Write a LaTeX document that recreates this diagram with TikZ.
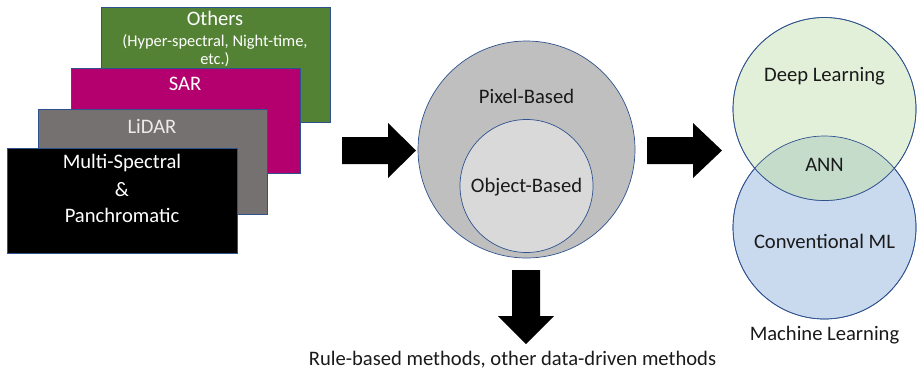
\documentclass[tikz,border=0pt]{standalone}
\usepackage{fontspec}
\setmainfont{Carlito}
\definecolor{bord}{HTML}{2F528F}
\definecolor{othg}{HTML}{548235}
\definecolor{sarm}{HTML}{B4006E}
\definecolor{lidg}{HTML}{767171}
\definecolor{pixg}{HTML}{BFBFBF}
\definecolor{objg}{HTML}{D9D9D9}
\definecolor{dlg}{HTML}{E2F0D9}
\definecolor{cmlb}{HTML}{C9D9EE}
\definecolor{anng}{HTML}{C5DCCB}
\definecolor{txt}{HTML}{1A1A1A}
\begin{document}
\begin{tikzpicture}[x=1pt,y=-1pt,
  layer/.style={draw=bord,line width=0.7pt,anchor=north west,inner sep=0pt},
  big/.style={font=\fontsize{20.6}{24}\selectfont,text=txt},
  wtxt/.style={font=\fontsize{20.6}{24}\selectfont,text=white},
  circ/.style={circle,draw=bord,line width=0.7pt,inner sep=0pt},
  blockarrow/.style={fill=black}]
\useasboundingbox (0,0) rectangle (917,373);
% stacked layers
\node[layer,fill=othg,minimum width=229pt,minimum height=115pt] (oth) at (101,7) {};
\node[layer,fill=sarm,minimum width=229pt,minimum height=105pt] (sar) at (71,68) {};
\node[layer,fill=lidg,minimum width=229pt,minimum height=105pt] (lid) at (38,109) {};
\node[layer,fill=black,minimum width=230pt,minimum height=105pt] (ms) at (7,148) {};
\node[wtxt] (othT) at (215,18) {Others};
\node[text=white,font=\fontsize{16.4}{19}\selectfont] (othS) at (215,42) {(Hyper-spectral, Night-time,};
\node[text=white,font=\fontsize{16.4}{19}\selectfont] (othE) at (215,60) {etc.)};
\node[wtxt] (sarT) at (185,84) {SAR};
\node[wtxt,text=white!92!black] (lidT) at (152,126) {LiDAR};
\node[wtxt] (msT) at (122,163) {Multi-Spectral};
\node[wtxt] (ampT) at (122,190) {\&};
\node[wtxt] (panT) at (122,215) {Panchromatic};
% middle circles
\node[circ,fill=pixg,minimum size=217pt] (pix) at (526.5,149.5) {};
\node[circ,fill=objg,minimum size=133pt] (obj) at (526.5,186) {};
\node[big] (pixT) at (526.5,96) {Pixel-Based};
\node[big] (objT) at (526.5,187) {Object-Based};
% venn
\node[circ,fill=cmlb,minimum size=183pt] (cml) at (824.5,227.5) {};
\node[circ,fill=dlg,minimum size=183pt] (dl) at (824.5,109) {};
\begin{scope}
  \clip (824.5,227.5) circle (91.5pt);
  \fill[anng] (824.5,109) circle (91.5pt);
\end{scope}
\draw[bord,line width=0.7pt] (824.5,227.5) circle (91.5pt);
\draw[bord,line width=0.7pt] (824.5,109) circle (91.5pt);
\node[big] (dlT) at (824.5,76) {Deep Learning};
\node[big] (annT) at (824.5,165) {ANN};
\node[big] (cmlT) at (824.5,241) {Conventional ML};
\node[big] (mlT) at (824.5,335) {Machine Learning};
\node[big] (ruleT) at (512.5,360) {Rule-based methods, other data-driven methods};
% block arrows
\fill[blockarrow] (342,137) -- (388,137) -- (388,123) -- (416,150.5) -- (388,178) -- (388,164) -- (342,164) -- cycle;
\fill[blockarrow] (647,137) -- (693,137) -- (693,123) -- (722,150.5) -- (693,178) -- (693,164) -- (647,164) -- cycle;
\fill[blockarrow] (512,270) -- (540,270) -- (540,316) -- (554,316) -- (526,344) -- (498,316) -- (512,316) -- cycle;
\end{tikzpicture}
\end{document}
